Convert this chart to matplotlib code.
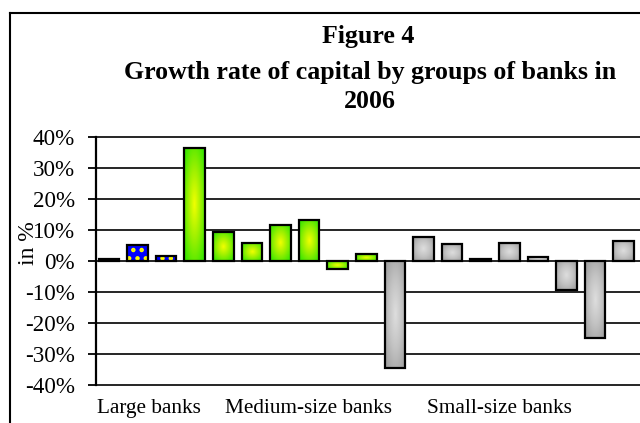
import numpy as np
import matplotlib
matplotlib.use("Agg")
import matplotlib.pyplot as plt
from matplotlib.colors import LinearSegmentedColormap
from matplotlib.lines import Line2D

plt.rcParams['font.family'] = ['Liberation Serif', 'DejaVu Serif']
plt.rcParams['hatch.linewidth'] = 2.0

# growth rate of capital, %
large = [0.7, 5.3, 1.5]
medium = [36.5, 9.2, 5.9, 11.7, 13.1, -2.5, 2.2]
small = [-34.6, 7.9, 5.4, 0.6, 5.9, 1.4, -9.4, -24.7, 6.5]
groups = ['Large banks', 'Medium-size banks', 'Small-size banks']
yticks = [-40, -30, -20, -10, 0, 10, 20, 30, 40]
ytick_labels = ['%d%%' % v for v in yticks]

W = 0.72

fig = plt.figure(figsize=(6.4, 4.23), dpi=100)
ax = fig.add_axes([0.15, 0.0898, 0.85, 0.5863])

x_large = np.arange(len(large))
x_medium = np.arange(len(medium)) + len(large)
x_small = np.arange(len(small)) + len(large) + len(medium)

# gradient texture used to fill the bars
yy, xx = np.mgrid[-1:1:60j, -1:1:60j]
rad = np.clip(np.sqrt(xx**2 + yy**2) / 1.25, 0, 1)
green_cm = LinearSegmentedColormap.from_list('gr', ['#f2ff00', '#9cf000', '#3ce600'])
grey_cm = LinearSegmentedColormap.from_list('gy', ['#dedede', '#c4c4c4', '#a2a2a2'])


def fill_bars(bars, cmap):
    for b in bars:
        x0, y0 = b.get_x(), b.get_y()
        w, h = b.get_width(), b.get_height()
        im = ax.imshow(rad, cmap=cmap, vmin=0, vmax=1, extent=[x0, x0 + w, y0, y0 + h],
                       aspect='auto', interpolation='bilinear', zorder=2)
        im.set_clip_path(b)


# large banks: blue with yellow pattern
ax.bar(x_large, large, W, color='#0000ff', edgecolor='#ffff00', hatch='..', lw=0, zorder=2)
ax.bar(x_large, large, W, color='none', edgecolor='black', lw=1.6, zorder=3)

b_med = ax.bar(x_medium, medium, W, color='none', edgecolor='black', lw=1.6, zorder=3)
fill_bars(b_med, green_cm)
b_sm = ax.bar(x_small, small, W, color='none', edgecolor='black', lw=1.6, zorder=3)
fill_bars(b_sm, grey_cm)

ax.set_xlim(-0.455, 18.57)
ax.set_ylim(-40, 40)
ax.set_yticks(yticks)
ax.set_yticklabels(ytick_labels)
ax.set_xticks([1.4, 6.96, 13.67])
ax.set_xticklabels(groups)
ax.tick_params(axis='x', length=0, labelsize=15.3, pad=10)
ax.tick_params(axis='y', direction='out', length=6, width=1.3, labelsize=16.6, pad=9)

ax.yaxis.grid(True, color='black', lw=1.2)
for gl in ax.get_ygridlines():
    gl.set_clip_on(False)
ax.set_axisbelow(True)
for s in ['top', 'right', 'bottom']:
    ax.spines[s].set_visible(False)
ax.spines['left'].set_linewidth(1.6)

fig.text(29 / 640, 1 - 243 / 423, 'in %', rotation=90, ha='center', va='center', fontsize=17)

tfs = 18.6
fig.text(368 / 640, 1 - 37 / 423, 'Figure 4', ha='center', va='center', fontsize=tfs, fontweight='bold')
fig.text(370 / 640, 1 - 72 / 423, 'Growth rate of capital by groups of banks in',
         ha='center', va='center', fontsize=tfs, fontweight='bold')
fig.text(370 / 640, 1 - 102 / 423, '2006', ha='center', va='center', fontsize=tfs, fontweight='bold')

# chart-area frame (cut off at right and bottom)
fig.add_artist(Line2D([10 / 640, 10 / 640], [0, 1 - 13 / 423], color='black', lw=1.5))
fig.add_artist(Line2D([10 / 640, 1], [1 - 13 / 423, 1 - 13 / 423], color='black', lw=1.5))

fig.savefig('out.png', dpi=100)
